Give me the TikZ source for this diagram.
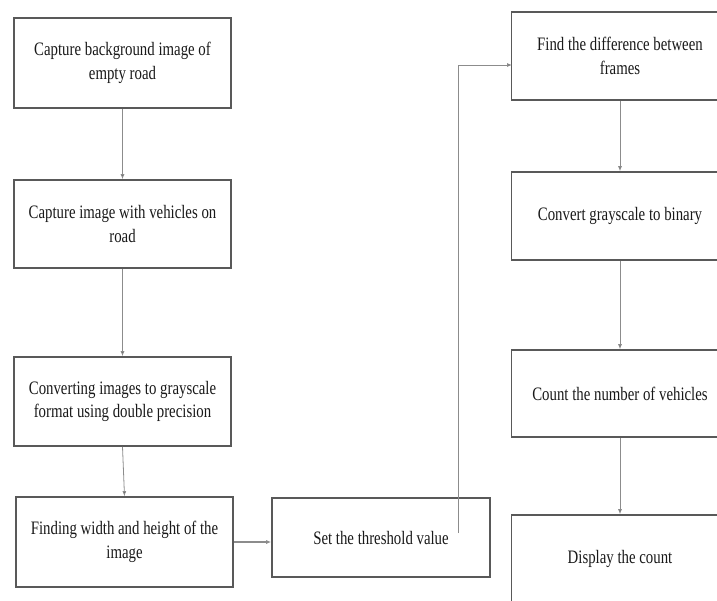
\documentclass[tikz,border=0pt]{standalone}
\usepackage{fontspec}
\setmainfont[FakeStretch=0.78]{Liberation Serif}
\usetikzlibrary{arrows.meta}
\tikzset{
	procbox/.style={draw=black!65,line width=1.6pt,minimum width=217pt,
		minimum height=88pt,inner sep=0pt,align=center,
		font=\fontsize{19}{23.5}\selectfont,text=black!90},
	flowline/.style={draw=black!45,line width=0.8pt,
		-{Latex[length=5pt,width=4pt,fill=black!70]}}
}
\begin{document}
\begin{tikzpicture}[x=1pt,y=-1pt]
		\useasboundingbox (0,0) rectangle (717,600);
		% left column
		\node[procbox,minimum height=90pt] (bgimg) at (122.5,63)
			{Capture background image of\\empty road};
		\node[procbox] (vehimg) at (122.5,224)
			{Capture image with vehicles on\\road};
		\node[procbox,minimum height=89pt] (grayimg) at (122.5,401.5)
			{Converting images to grayscale\\format using double precision};
		\node[procbox,minimum height=90pt] (imgsize) at (124.5,542)
			{Finding width and height of the\\image};
		\node[procbox,minimum width=218pt,minimum height=79pt] (thresh) at (381,537.5)
			{Set the threshold value};
		% right column
		\node[procbox] (diff) at (620,56)
			{Find the difference between\\frames};
		\node[procbox] (binary) at (620,216)
			{Convert grayscale to binary};
		\node[procbox,minimum height=87pt] (count) at (620,393.5)
			{Count the number of vehicles};
		\node[procbox] (display) at (620,559)
			{Display the count};
		\coordinate (threshtap) at (458,533);
		\coordinate (diffin) at (512,65);
		\begin{scope}[flowline]
			\draw (bgimg)--(vehimg);
			\draw (vehimg)--(grayimg);
			\draw (grayimg.south)--(imgsize.north);
			\draw[line width=1.2pt] (imgsize.east)--(imgsize.east-|thresh.west);
			\draw (threshtap)|-(diffin);
			\draw (diff)--(binary);
			\draw (binary)--(count);
			\draw (count)--(display);
		\end{scope}
	\end{tikzpicture}
\end{document}
